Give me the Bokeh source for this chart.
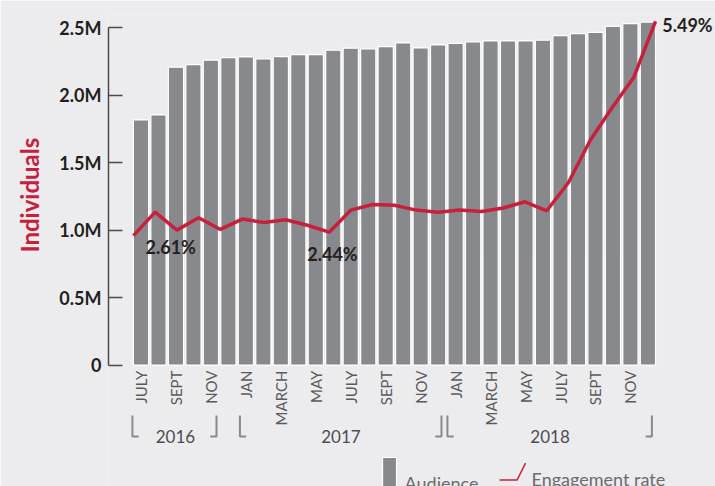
import numpy as np
from bokeh.plotting import figure
from bokeh.models import Range1d, FixedTicker, Title
from bokeh.core.properties import value
from bokeh.embed import file_html
from bokeh.resources import INLINE

# ---------------- data ----------------
audience = [1.818, 1.855, 2.209, 2.228, 2.261, 2.280,
            2.285, 2.270, 2.287, 2.302, 2.302, 2.335, 2.350, 2.344, 2.361, 2.389, 2.352, 2.374,
            2.385, 2.396, 2.404, 2.404, 2.404, 2.409, 2.443, 2.458, 2.468, 2.512, 2.532, 2.544]  # millions
engagement = [2.39, 2.73, 2.47, 2.65, 2.48, 2.63, 2.58, 2.62, 2.54, 2.44, 2.76, 2.84, 2.83,
              2.76, 2.73, 2.76, 2.74, 2.79, 2.88, 2.75, 3.16, 3.77, 4.24, 4.68, 5.49]  # percent
month_ticks = ["JULY", "SEPT", "NOV", "JAN", "MARCH", "MAY", "JULY", "SEPT", "NOV",
               "JAN", "MARCH", "MAY", "JULY", "SEPT", "NOV"]
years = ["2016", "2017", "2018"]
y_ticks = [0, 0.5, 1.0, 1.5, 2.0, 2.5]
y_tick_labels = ["0", "0.5M", "1.0M", "1.5M", "2.0M", "2.5M"]
rate_labels = ["2.61%", "2.44%", "5.49%"]

# ---------------- style ----------------
BG = "#ececee"
BAR = "#88898d"
RED = "#c8203c"
DARK = "#231f20"
GRAY = "#5b5b5d"
FONT = "Lato"
M = 1e6
BAR_W = 0.87

idx = np.arange(len(audience))
aud = np.array(audience) * M

p = figure(width=715, height=486, output_backend="svg", toolbar_location=None,
           x_range=Range1d(-1.859, 32.867), y_range=Range1d(-0.901 * M, 2.6 * M),
           min_border_left=108, min_border_right=0, min_border_top=14, min_border_bottom=0,
           x_axis_location=None, background_fill_color=BG, border_fill_color=BG,
           outline_line_color=None)
p.grid.visible = False

# y axis
ya = p.yaxis[0]
ya.ticker = FixedTicker(ticks=[t * M for t in y_ticks])
ya.major_label_overrides = {t * M: l for t, l in zip(y_ticks, y_tick_labels)}
ya.bounds = (0, 2.5 * M)
ya.major_tick_in = 14
ya.major_tick_out = 0
ya.minor_tick_line_color = None
ya.axis_line_color = "#4a4a4a"
ya.axis_line_width = 1.5
ya.major_tick_line_color = "#4a4a4a"
ya.major_tick_line_width = 1.5
ya.major_label_standoff = 7
ya.major_label_text_font = FONT
ya.major_label_text_font_style = "bold"
ya.major_label_text_font_size = "18px"
ya.major_label_text_color = DARK

# axis title, centred on the 0..2.5M span rather than the whole frame
p.add_layout(Title(text="Individuals", align="left", offset=234, standoff=25,
                   text_font=FONT, text_font_style="bold", text_font_size="24px",
                   text_color=RED), "left")

# bars
p.vbar(x=idx, top=aud, bottom=0, width=BAR_W, fill_color=BAR, line_color="white", line_width=1.2)

# engagement line on its own scale
p.extra_y_ranges = {"rate": Range1d(-1.241, 5.591)}
line_x = np.linspace(idx[0] - BAR_W / 2, idx[-1] + BAR_W / 2, len(engagement))
p.line(x=line_x, y=engagement, y_range_name="rate", line_color=RED, line_width=3.5)

# month labels
tick_x = idx[::2]
p.text(x=tick_x, y=[-0.041 * M] * len(tick_x), text=month_ticks, angle=np.pi / 2,
       text_align="right", text_baseline="middle", text_font=value(FONT),
       text_font_size="15px", text_color=GRAY)

# year brackets
left_v = [-0.49, 5.66, 17.53]
right_v = [4.32, 17.19, 29.23]
foot = 0.36
b_top, b_bot = -0.3746 * M, -0.53 * M
xs, ys = [], []
for lv, rv in zip(left_v, right_v):
    xs.append([lv, lv, lv + foot]); ys.append([b_top, b_bot, b_bot])
    xs.append([rv, rv, rv - foot]); ys.append([b_top, b_bot, b_bot])
p.multi_line(xs=xs, ys=ys, line_color="#8a8a8c", line_width=2)
p.text(x=[1.97, 11.44, 23.4], y=[-0.53 * M] * 3, text=years, text_align="center",
       text_baseline="alphabetic", text_font=value(FONT), text_font_size="17px",
       text_color="#4d4d4f")

# rate labels
p.text(x=[0.257, 9.51, 29.82], y=[0.874 * M, 0.820 * M, 2.519 * M], text=rate_labels,
       text_align="left", text_baseline="alphabetic", text_font=value(FONT),
       text_font_style="bold", text_font_size="18px", text_color=DARK)

# legend
p.quad(left=[13.82], right=[14.62], top=[-0.686 * M], bottom=[-0.95 * M],
       fill_color=BAR, line_color="white", line_width=1.2)
p.text(x=[15.08], y=[-0.872 * M], text=["Audience"], text_align="left",
       text_baseline="alphabetic", text_font=value(FONT), text_font_size="18px",
       text_color="#6b6b6d")
p.line(x=[20.51, 21.52, 22.0], y=[-0.852 * M, -0.852 * M, -0.728 * M],
       line_color=RED, line_width=1.5)
p.text(x=[22.34], y=[-0.848 * M], text=["Engagement rate"], text_align="left",
       text_baseline="alphabetic", text_font=value(FONT), text_font_size="18px",
       text_color="#6b6b6d")

open("out.html", "w").write(file_html(p, INLINE))
